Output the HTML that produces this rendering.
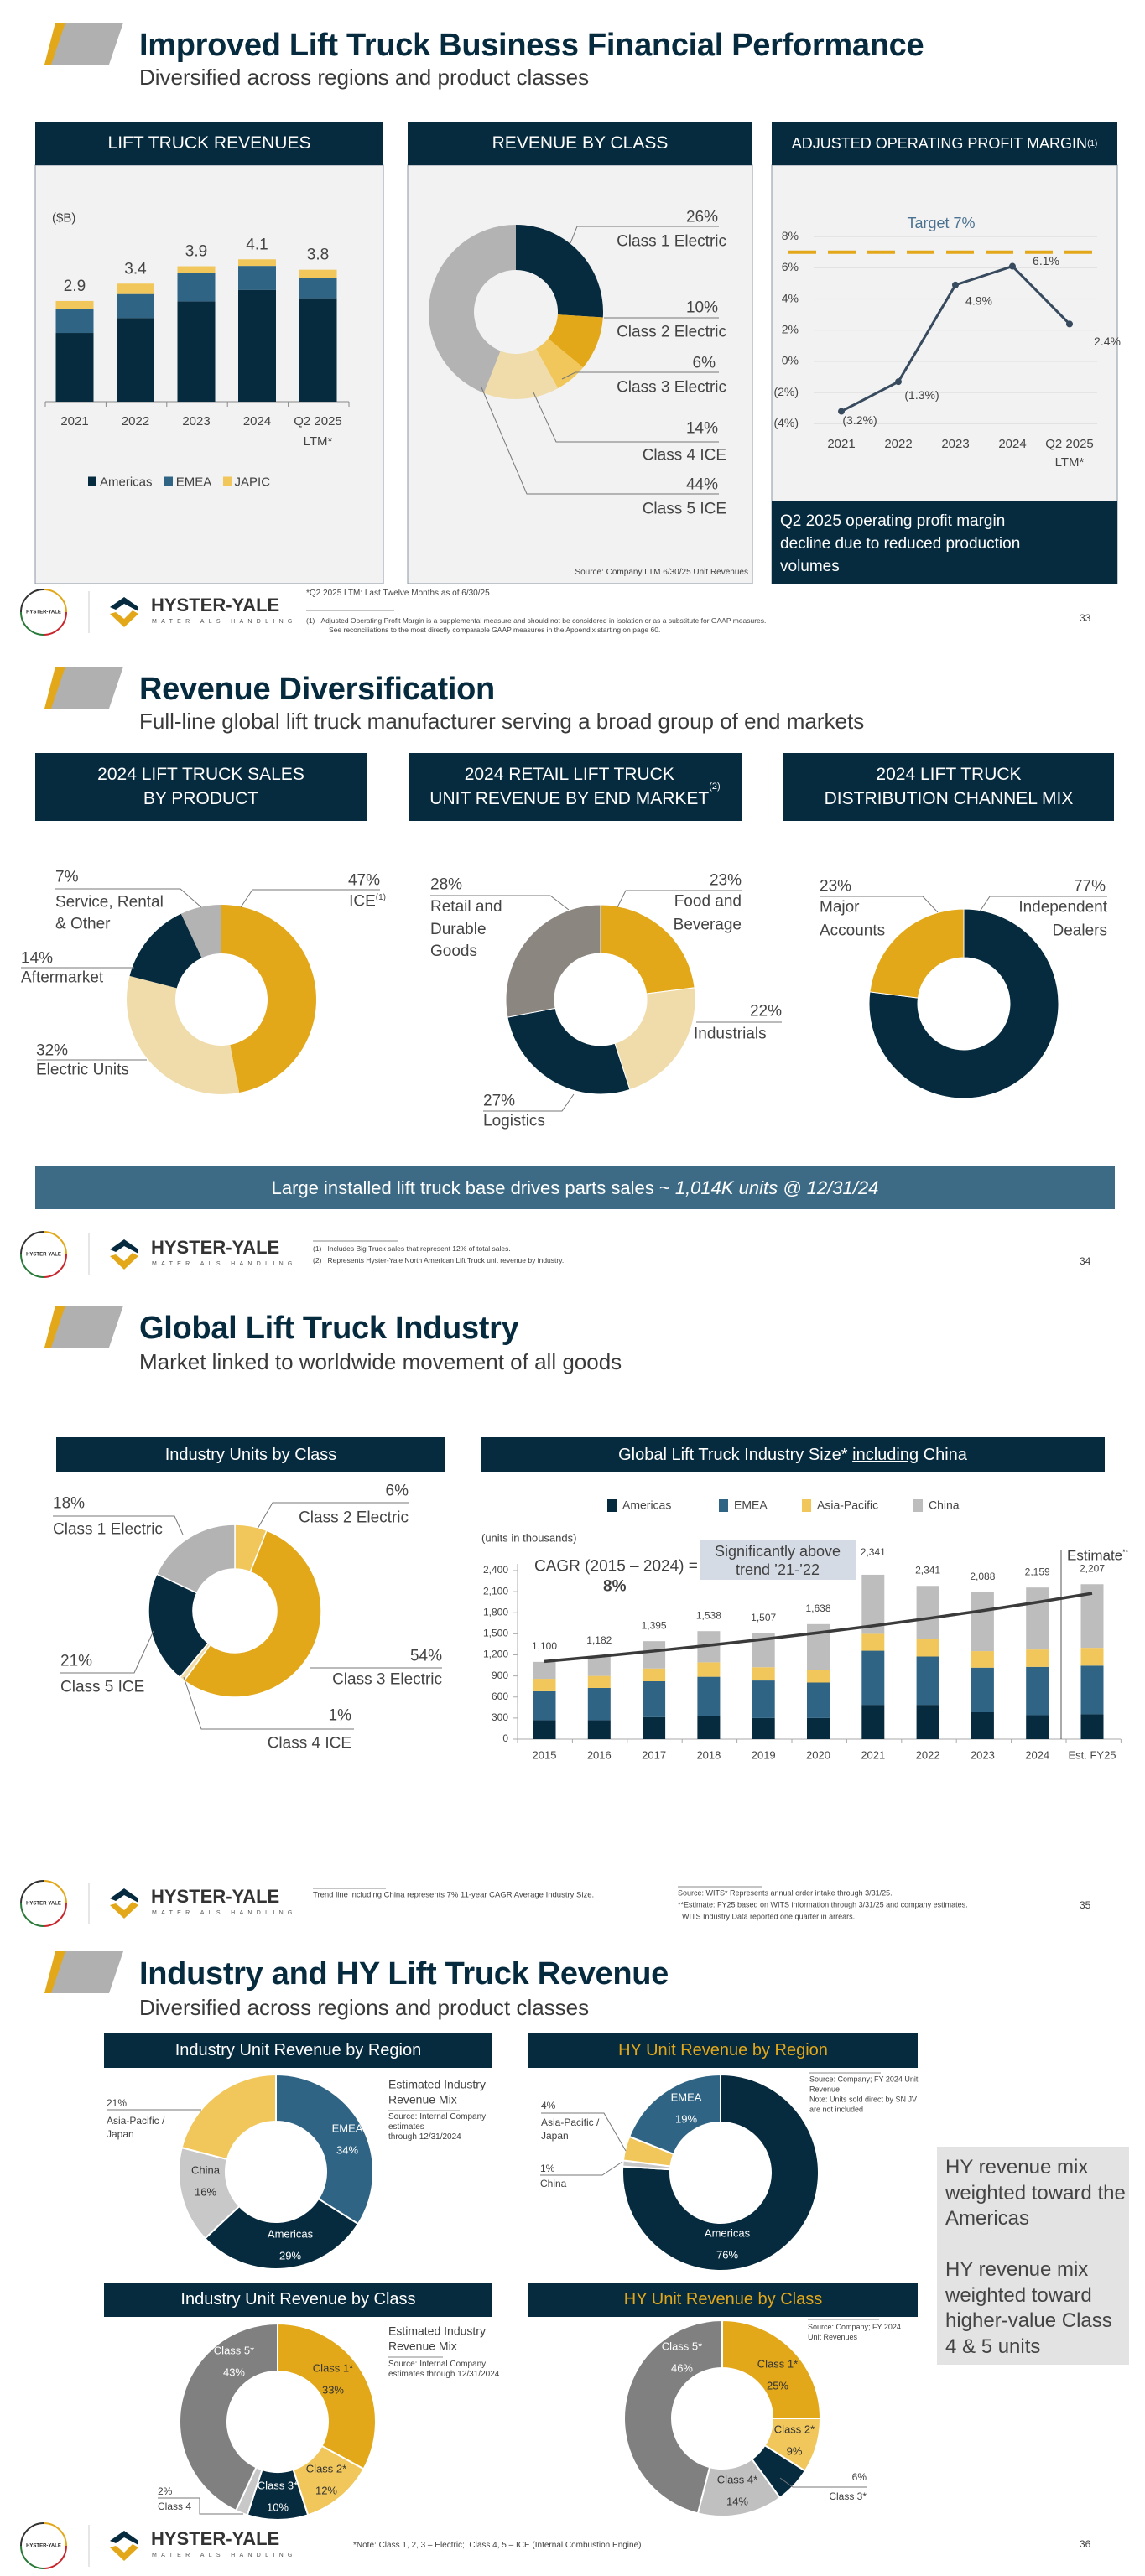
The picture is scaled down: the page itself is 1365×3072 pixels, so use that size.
<!DOCTYPE html>
<html><head><meta charset="utf-8">
<style>
*{margin:0;padding:0;box-sizing:border-box}
body{width:1365px;height:3072px;position:relative;background:#fff;font-family:"Liberation Sans",sans-serif;color:#404040;overflow:hidden}
#g{position:absolute;left:0;top:0}
.t{position:absolute;white-space:nowrap;line-height:1;transform:translateY(-50%)}
.c{position:absolute;white-space:nowrap;line-height:1;transform:translate(-50%,-50%);text-align:center}
.r{position:absolute;white-space:nowrap;line-height:1;transform:translateY(-50%);text-align:right}
.title{font-weight:bold;font-size:38px;color:#062a3e;letter-spacing:-0.3px}
.sub{font-size:26px;color:#3a3a3a}
.hdr{position:absolute;background:#062a3e;color:#fff;display:flex;align-items:center;justify-content:center;text-align:center;font-size:21px;line-height:1.35}
.lb{font-size:19px;color:#444}
.sm{font-size:10px;color:#444}
.in{font-size:13px;color:#fff}
</style></head><body>
<svg id="g" width="1365" height="3072"></svg>

<!-- SLIDE 1 -->
<div class="t title" style="left:166px;top:54px">Improved Lift Truck Business Financial Performance</div>
<div class="t sub" style="left:166px;top:92px">Diversified across regions and product classes</div>
<div class="hdr" style="left:42px;top:146px;width:415px;height:51px">LIFT TRUCK REVENUES</div>
<div class="hdr" style="left:486px;top:146px;width:411px;height:51px">REVENUE BY CLASS</div>
<div class="hdr" style="left:920px;top:146px;width:412px;height:51px;font-size:18px">ADJUSTED OPERATING PROFIT MARGIN<sup style="font-size:10px">(1)</sup></div>
<div class="t" style="left:62px;top:260px;font-size:15px">($B)</div>
<div class="t" style="left:105px;top:575px;font-size:15px"><span style="display:inline-block;width:10px;height:11px;background:#062a3e;margin-right:4px"></span>Americas <span style="display:inline-block;width:10px;height:11px;background:#2f6484;margin:0 4px 0 10px"></span>EMEA <span style="display:inline-block;width:10px;height:11px;background:#f1c75b;margin:0 4px 0 10px"></span>JAPIC</div>
<div class="r lb" style="right:509px;top:259px">26%</div>
<div class="r lb" style="right:499px;top:288px">Class 1 Electric</div>
<div class="r lb" style="right:509px;top:367px">10%</div>
<div class="r lb" style="right:499px;top:396px">Class 2 Electric</div>
<div class="r lb" style="right:512px;top:433px">6%</div>
<div class="r lb" style="right:499px;top:462px">Class 3 Electric</div>
<div class="r lb" style="right:509px;top:511px">14%</div>
<div class="r lb" style="right:499px;top:543px">Class 4 ICE</div>
<div class="r lb" style="right:509px;top:578px">44%</div>
<div class="r lb" style="right:499px;top:607px">Class 5 ICE</div>
<div class="r" style="right:473px;top:683px;font-size:10px">Source: Company LTM 6/30/25 Unit Revenues</div>
<div class="c" style="left:1122px;top:266px;font-size:18px;color:#4a7290">Target 7%</div>
<div style="position:absolute;left:920px;top:598px;width:412px;height:99px;background:#062a3e;color:#fff;font-size:19px;line-height:27px;padding:10px 10px">Q2 2025 operating profit margin<br>decline due to reduced production<br>volumes</div>
<div class="t sm" style="left:365px;top:708px">*Q2 2025 LTM: Last Twelve Months as of 6/30/25</div>
<div class="t" style="left:365px;top:740px;font-size:8.5px;color:#444">(1)&nbsp;&nbsp;&nbsp;Adjusted Operating Profit Margin is a supplemental measure and should not be considered in isolation or as a substitute for GAAP measures.</div>
<div class="t" style="left:392px;top:751px;font-size:8.5px;color:#444">See reconciliations to the most directly comparable GAAP measures in the Appendix starting on page 60.</div>
<div class="t" style="left:1287px;top:737px;font-size:12px">33</div>

<!-- SLIDE 2 -->
<div class="t title" style="left:166px;top:822px">Revenue Diversification</div>
<div class="t sub" style="left:166px;top:860px">Full-line global lift truck manufacturer serving a broad group of end markets</div>
<div class="hdr" style="left:42px;top:898px;width:395px;height:81px">2024 LIFT TRUCK SALES<br>BY PRODUCT</div>
<div class="hdr" style="left:487px;top:898px;width:397px;height:81px">2024 RETAIL LIFT TRUCK<br>UNIT REVENUE BY END MARKET<sup style="font-size:11px">(2)</sup></div>
<div class="hdr" style="left:934px;top:898px;width:394px;height:81px">2024 LIFT TRUCK<br>DISTRIBUTION CHANNEL MIX</div>
<div class="t lb" style="left:66px;top:1046px">7%</div>
<div class="t lb" style="left:66px;top:1076px">Service, Rental</div>
<div class="t lb" style="left:66px;top:1102px">&amp; Other</div>
<div class="r lb" style="right:912px;top:1050px">47%</div>
<div class="r lb" style="right:905px;top:1075px">ICE<sup style="font-size:10px">(1)</sup></div>
<div class="t lb" style="left:25px;top:1143px">14%</div>
<div class="t lb" style="left:25px;top:1166px">Aftermarket</div>
<div class="t lb" style="left:43px;top:1253px">32%</div>
<div class="t lb" style="left:43px;top:1276px">Electric Units</div>
<div class="t lb" style="left:513px;top:1055px">28%</div>
<div class="t lb" style="left:513px;top:1083px;line-height:1.4;transform:translateY(-14px)">Retail and<br>Durable<br>Goods</div>
<div class="r lb" style="right:481px;top:1050px">23%</div>
<div class="r lb" style="right:481px;top:1075px">Food and</div>
<div class="r lb" style="right:481px;top:1103px">Beverage</div>
<div class="r lb" style="right:433px;top:1206px">22%</div>
<div class="t lb" style="left:827px;top:1233px">Industrials</div>
<div class="t lb" style="left:576px;top:1313px">27%</div>
<div class="t lb" style="left:576px;top:1337px">Logistics</div>
<div class="t lb" style="left:977px;top:1057px">23%</div>
<div class="t lb" style="left:977px;top:1082px">Major</div>
<div class="t lb" style="left:977px;top:1110px">Accounts</div>
<div class="r lb" style="right:47px;top:1057px">77%</div>
<div class="r lb" style="right:45px;top:1082px">Independent</div>
<div class="r lb" style="right:45px;top:1110px">Dealers</div>
<div style="position:absolute;left:42px;top:1391px;width:1287px;height:51px;background:#3d6b86;color:#fff;font-size:22px;display:flex;align-items:center;justify-content:center">Large installed lift truck base drives parts sales ~&nbsp;<i>1,014K units @ 12/31/24</i></div>
<div class="t" style="left:373px;top:1489px;font-size:8.5px">(1)&nbsp;&nbsp;&nbsp;Includes Big Truck sales that represent 12% of total sales.</div>
<div class="t" style="left:373px;top:1503px;font-size:8.5px">(2)&nbsp;&nbsp;&nbsp;Represents Hyster-Yale North American Lift Truck unit revenue by industry.</div>
<div class="t" style="left:1287px;top:1504px;font-size:12px">34</div>

<!-- SLIDE 3 -->
<div class="t title" style="left:166px;top:1584px">Global Lift Truck Industry</div>
<div class="t sub" style="left:166px;top:1624px">Market linked to worldwide movement of all goods</div>
<div class="hdr" style="left:67px;top:1714px;width:464px;height:42px;font-size:20px">Industry Units by Class</div>
<div class="hdr" style="left:573px;top:1714px;width:744px;height:42px;font-size:20px">Global Lift Truck Industry Size*&nbsp;<u>including</u>&nbsp;China</div>
<div class="t lb" style="left:63px;top:1793px">18%</div>
<div class="t lb" style="left:63px;top:1824px">Class 1 Electric</div>
<div class="r lb" style="right:878px;top:1778px">6%</div>
<div class="r lb" style="right:878px;top:1810px">Class 2 Electric</div>
<div class="t lb" style="left:72px;top:1981px">21%</div>
<div class="t lb" style="left:72px;top:2012px">Class 5 ICE</div>
<div class="r lb" style="right:838px;top:1975px">54%</div>
<div class="r lb" style="right:838px;top:2003px">Class 3 Electric</div>
<div class="r lb" style="right:946px;top:2046px">1%</div>
<div class="r lb" style="right:946px;top:2079px">Class 4 ICE</div>
<div class="t" style="left:574px;top:1834px;font-size:13px">(units in thousands)</div>
<div class="t" style="left:637px;top:1868px;font-size:19px">CAGR (2015 – 2024) =</div>
<div class="t" style="left:719px;top:1892px;font-size:19px;font-weight:bold">8%</div>
<div class="c" style="left:927px;top:1860px;width:186px;height:48px;background:#d5dbe5;font-size:18px;line-height:22px;padding-top:3px;transform:translate(-50%,-50%)">Significantly above<br>trend ’21-’22</div>
<div class="t" style="left:1272px;top:1855px;font-size:17px">Estimate<sup style="font-size:9px">**</sup></div>
<div class="t" style="left:373px;top:2260px;font-size:9.5px">Trend line including China represents 7% 11-year CAGR Average Industry Size.</div>
<div class="t" style="left:808px;top:2258px;font-size:9px">Source: WITS* Represents annual order intake through 3/31/25.</div>
<div class="t" style="left:808px;top:2272px;font-size:9px">**Estimate: FY25 based on WITS information through 3/31/25 and company estimates.</div>
<div class="t" style="left:813px;top:2286px;font-size:9px">WITS Industry Data reported one quarter in arrears.</div>
<div class="t" style="left:1287px;top:2272px;font-size:12px">35</div>

<!-- SLIDE 4 -->
<div class="t title" style="left:166px;top:2354px">Industry and HY Lift Truck Revenue</div>
<div class="t sub" style="left:166px;top:2394px">Diversified across regions and product classes</div>
<div class="hdr" style="left:124px;top:2425px;width:463px;height:41px;font-size:20px">Industry Unit Revenue by Region</div>
<div class="hdr" style="left:630px;top:2425px;width:464px;height:41px;font-size:20px;color:#e3a81a">HY Unit Revenue by Region</div>
<div class="hdr" style="left:124px;top:2722px;width:463px;height:41px;font-size:20px">Industry Unit Revenue by Class</div>
<div class="hdr" style="left:630px;top:2722px;width:464px;height:41px;font-size:20px;color:#e3a81a">HY Unit Revenue by Class</div>
<div class="c in" style="left:414px;top:2551px">EMEA<br><br>34%</div>
<div class="c in" style="left:346px;top:2677px">Americas<br><br>29%</div>
<div class="c in" style="left:245px;top:2601px;color:#333">China<br><br>16%</div>
<div class="t" style="left:127px;top:2508px;font-size:12px">21%</div>
<div class="t" style="left:127px;top:2537px;font-size:12px;line-height:1.35">Asia-Pacific /<br>Japan</div>
<div class="t" style="left:463px;top:2495px;font-size:14px;line-height:1.25">Estimated Industry<br>Revenue Mix</div>
<div class="t" style="left:463px;top:2537px;font-size:10px;line-height:1.2">Source: Internal Company<br>estimates<br>through 12/31/2024</div>
<div class="c in" style="left:818px;top:2514px">EMEA<br><br>19%</div>
<div class="c in" style="left:867px;top:2676px">Americas<br><br>76%</div>
<div class="t" style="left:645px;top:2511px;font-size:12px">4%</div>
<div class="t" style="left:645px;top:2539px;font-size:12px;line-height:1.35">Asia-Pacific /<br>Japan</div>
<div class="t" style="left:644px;top:2586px;font-size:12px">1%</div>
<div class="t" style="left:644px;top:2604px;font-size:12px">China</div>
<div class="t" style="left:965px;top:2498px;font-size:9px;line-height:1.35">Source: Company; FY 2024 Unit<br>Revenue<br>Note: Units sold direct by SN JV<br>are not included</div>
<div class="c in" style="left:279px;top:2816px">Class 5*<br><br>43%</div>
<div class="c in" style="left:397px;top:2837px;color:#333">Class 1*<br><br>33%</div>
<div class="c in" style="left:389px;top:2957px;color:#333">Class 2*<br><br>12%</div>
<div class="c in" style="left:331px;top:2977px">Class 3*<br><br>10%</div>
<div class="t" style="left:188px;top:2971px;font-size:12px">2%</div>
<div class="t" style="left:188px;top:2989px;font-size:12px">Class 4</div>
<div class="t" style="left:463px;top:2789px;font-size:14px;line-height:1.25">Estimated Industry<br>Revenue Mix</div>
<div class="t" style="left:463px;top:2826px;font-size:10px;line-height:1.2">Source: Internal Company<br>estimates through 12/31/2024</div>
<div class="c in" style="left:813px;top:2811px">Class 5*<br><br>46%</div>
<div class="c in" style="left:927px;top:2832px;color:#333">Class 1*<br><br>25%</div>
<div class="c in" style="left:947px;top:2910px;color:#333">Class 2*<br><br>9%</div>
<div class="c in" style="left:879px;top:2970px;color:#333">Class 4*<br><br>14%</div>
<div class="r" style="right:332px;top:2954px;font-size:12px">6%</div>
<div class="r" style="right:332px;top:2977px;font-size:12px">Class 3*</div>
<div class="t" style="left:963px;top:2781px;font-size:9px;line-height:1.35">Source: Company; FY 2024<br>Unit Revenues</div>
<div style="position:absolute;left:1117px;top:2560px;width:229px;height:260px;background:#e3e3e3;font-size:24px;line-height:30.5px;color:#444;padding:10px 4px 0 10px">HY revenue mix weighted toward the Americas<br><br>HY revenue mix weighted toward higher-value Class 4 &amp; 5 units</div>
<div class="t" style="left:421px;top:3036px;font-size:10px">*Note: Class 1, 2, 3 – Electric;&nbsp; Class 4, 5 – ICE (Internal Combustion Engine)</div>
<div class="t" style="left:1287px;top:3034px;font-size:12px">36</div>

<script>
// ---- Lift truck revenues ($B) ----
const revYears = ["2021","2022","2023","2024","Q2 2025"];
const revAmericas = [1.98,2.41,2.89,3.22,2.98];
const revEmea = [0.68,0.69,0.83,0.69,0.58];
const revJapic = [0.24,0.30,0.18,0.19,0.24];
const revTotals = ["2.9","3.4","3.9","4.1","3.8"];
// ---- Adjusted operating profit margin (%) ----
const marginYears = ["2021","2022","2023","2024","Q2 2025"];
const marginValues = [-3.2,-1.3,4.9,6.1,2.4];
const marginLabels = ["(3.2%)","(1.3%)","4.9%","6.1%","2.4%"];
const marginTicks = [8,6,4,2,0,-2,-4];
const marginTarget = [7];
// ---- Donuts ----
const revClassValues = [26,10,6,14,44];
const productValues = [47,32,14,7];
const endMarketValues = [23,22,27,28];
const channelValues = [77,23];
const indClassValues = [6,54,1,21,18];
const indRegionValues = [34,29,16,21];
const hyRegionValues = [76,1,4,19];
const indRevClassValues = [33,12,10,2,43];
const hyClassValues = [25,9,6,14,46];
// ---- Global industry size (thousands) ----
const sizeYears = ["2015","2016","2017","2018","2019","2020","2021","2022","2023","2024","Est. FY25"];
const sizeAmericas = [270,270,312,324,300,300,488,488,382,341,353];
const sizeEmea = [412,459,512,564,535,506,771,688,636,688,694];
const sizeApac = [177,171,182,206,189,176,241,253,235,247,253];
const sizeChina = [241,282,389,444,483,656,841,753,841,883,906];
const sizeLabels = ["1,100","1,182","1,395","1,538","1,507","1,638","2,341","2,341","2,088","2,159","2,207"];
const sizeTicks = [0,300,600,900,1200,1500,1800,2100,2400];
const trendStartEnd = [1106,2076];

const NS="http://www.w3.org/2000/svg";
const svg=document.getElementById('g');
function mk(tag,attrs,parent){const e=document.createElementNS(NS,tag);for(const k in attrs)e.setAttribute(k,attrs[k]);(parent||svg).appendChild(e);return e;}
function txt(x,y,s,size,anchor,fill,parent){const e=mk('text',{x:x,y:y,'font-size':size,'text-anchor':anchor||'middle',fill:fill||'#444','font-family':'Liberation Sans, sans-serif','dominant-baseline':'middle'},parent);e.textContent=s;return e;}
const NAVY='#062a3e',STEEL='#2f6484',GOLD='#e3a81a',LGOLD='#f1c75b',PALE='#efdcaa',GRAY='#b3b3b3',DGRAY='#808080';

function deco(y){
  const g=mk('g',{});
  
  
  mk('polygon',{points:`${53},${y+50} ${66},${y} ${86},${y} ${73},${y+50}`,fill:GOLD},g);
  mk('polygon',{points:`${61},${y+50} ${78},${y} ${147},${y} ${130},${y+50}`,fill:'#b0b0b0'},g);
}
deco(27);deco(795);deco(1557);deco(2327);
function footer(cy){
  const g=mk('g',{});
  
  
  const cols=['#e3a81a','#c8262c','#2a7a3a','#333'];
  for(let i=0;i<4;i++){const a0=i*Math.PI/2-Math.PI/2,a1=a0+Math.PI/2;
    mk('path',{d:`M${52+27*Math.cos(a0)},${cy+27*Math.sin(a0)} A27,27 0 0 1 ${52+27*Math.cos(a1)},${cy+27*Math.sin(a1)}`,fill:'none',stroke:cols[i],'stroke-width':2},g);}
  txt(52,cy,'HYSTER-YALE',6,'middle','#222',g).setAttribute('font-weight','bold');
  mk('line',{x1:106,y1:cy-25,x2:106,y2:cy+25,stroke:'#ccc'},g);
  mk('path',{d:`M131,${cy-6} L148,${cy-18} L165,${cy-6} L165,${cy-1} L148,${cy-10} L138,${cy-3} Z`,fill:NAVY},g);
  mk('path',{d:`M131,${cy+2} L148,${cy+18} L165,${cy+2} L158,${cy-2} L148,${cy+8} L138,${cy} Z`,fill:GOLD},g);
  const t=txt(180,cy-7,'HYSTER-YALE',22,'start','#333',g);t.setAttribute('font-weight','bold');
  const m=txt(181,cy+11,'MATERIALS HANDLING',7,'start','#555',g);m.setAttribute('letter-spacing','5.3');
}
footer(730);footer(1496);footer(2270);footer(3036);

[[42,457],[486,897],[920,1332]].forEach(p=>{const r=mk('rect',{x:p[0],y:197,width:p[1]-p[0],height:499,fill:'#f2f2f2',stroke:'#8a96a3','stroke-width':1});});

(function(){
  const base=479,ppu=41.4,x0=89,step=72.5,w=45;
  const ys=v=>base-v*ppu;
  mk('line',{x1:54,y1:base,x2:416,y2:base,stroke:'#888'});
  for(let i=0;i<=5;i++)mk('line',{x1:54+i*72.4,y1:base,x2:54+i*72.4,y2:base+6,stroke:'#888'});
  revYears.forEach((yr,i)=>{
    const cx=x0+i*step;let acc=0;
    [[revAmericas[i],NAVY,'americas'],[revEmea[i],STEEL,'emea'],[revJapic[i],LGOLD,'japic']].forEach(s=>{
      const r=mk('rect',{x:cx-w/2,y:ys(acc+s[0]),width:w,height:s[0]*ppu,fill:s[1]});
      
      
      acc+=s[0];});
    txt(cx,ys(acc)-17,revTotals[i],19,'middle','#444');
    txt(cx,base+24,yr,15,'middle','#444');
    if(i==4)txt(cx,base+48,'LTM*',15,'middle','#444');
  });
})();

(function(){
  const y0=431,pp=18.6,x0=1003,step=68;
  const ys=v=>y0-v*pp;
  marginTicks.forEach(t=>{mk('line',{x1:970,y1:ys(t),x2:1308,y2:ys(t),stroke:'#e0e0e0'});txt(952,ys(t),t<0?'('+(-t)+'%)':t+'%',14,'end','#444');});
  const tl=mk('line',{x1:940,y1:ys(marginTarget[0]),x2:1302,y2:ys(marginTarget[0]),stroke:GOLD,'stroke-width':4,'stroke-dasharray':'33 14'});
  
  const pts=marginValues.map((v,i)=>[x0+i*step,ys(v)]);
  const pl=mk('polyline',{points:pts.map(p=>p.join(',')).join(' '),fill:'none',stroke:'#374a5e','stroke-width':3});
  
  const off=[[22,12],[28,17],[28,20],[40,-5],[45,22]];
  pts.forEach((p,i)=>{const c=mk('circle',{cx:p[0],cy:p[1],r:4,fill:'#374a5e'});
    txt(p[0]+off[i][0],p[1]+off[i][1],marginLabels[i],14,'middle','#444');
    txt(p[0],530,marginYears[i],15,'middle','#444');});
  txt(1275,552,'LTM*',15,'middle','#444');
})();

function donut(cx,cy,ro,ri,vals,cols,name,sw){
  const tot=vals.reduce((a,b)=>a+b,0);let a=-Math.PI/2;
  vals.forEach((v,i)=>{const b=a+v/tot*2*Math.PI,lg=(b-a)>Math.PI?1:0;
    const p=`M${cx+ro*Math.cos(a)},${cy+ro*Math.sin(a)} A${ro},${ro} 0 ${lg} 1 ${cx+ro*Math.cos(b)},${cy+ro*Math.sin(b)} L${cx+ri*Math.cos(b)},${cy+ri*Math.sin(b)} A${ri},${ri} 0 ${lg} 0 ${cx+ri*Math.cos(a)},${cy+ri*Math.sin(a)} Z`;
    const e=mk('path',{d:p,fill:cols[i],stroke:'#fff','stroke-width':sw||0});
    
    
    a=b;});
}
function L(pts){mk('polyline',{points:pts.map(p=>p.join(',')).join(' '),fill:'none',stroke:'#777','stroke-width':1});}
donut(615,372,104,50,revClassValues,[NAVY,GOLD,LGOLD,PALE,GRAY],'revenue-class',0);
L([[857,270],[688,270],[680,290]]);L([[857,379],[720,379]]);L([[857,444],[686,444],[670,452]]);L([[857,527],[663,527],[636,468]]);L([[857,589],[628,589],[574,462]]);

donut(264,1192,113,55,productValues,[GOLD,PALE,NAVY,GRAY],'product',0);
L([[66,1060],[215,1060],[240,1082]]);L([[453,1061],[301,1061],[287,1082]]);L([[25,1154],[160,1154]]);L([[44,1264],[175,1264]]);
donut(716,1192,113,55,endMarketValues,[GOLD,PALE,NAVY,'#8b8680'],'end-market',1);
L([[513,1068],[656,1068],[678,1085]]);L([[884,1062],[746,1062],[736,1082]]);L([[932,1219],[830,1219]]);L([[576,1325],[670,1325],[684,1305]]);
donut(1149,1197,113,55,channelValues,[NAVY,GOLD],'channel',1);
L([[977,1069],[1100,1069],[1118,1088]]);L([[1320,1069],[1180,1069],[1168,1087]]);

donut(280,1921,103,50,indClassValues,[LGOLD,GOLD,PALE,NAVY,GRAY],'industry-class',1.5);
L([[63,1808],[208,1808],[218,1830]]);L([[487,1792],[325,1792],[307,1823]]);L([[72,1995],[160,1995],[183,1945]]);L([[527,1989],[370,1989]]);L([[422,2062],[240,2062],[219,2000]]);

(function(){
  const base=2074,top=1873,max=2400,x0=649,step=65.3,w=27;
  const ys=v=>base-(v/max)*(base-top);
  mk('line',{x1:617,y1:base,x2:1336,y2:base,stroke:'#aaa'});
  mk('line',{x1:617,y1:top-8,x2:617,y2:base,stroke:'#aaa'});
  sizeTicks.forEach(t=>{txt(606,ys(t),t.toLocaleString('en-US'),12,'end','#444');mk('line',{x1:612,y1:ys(t),x2:617,y2:ys(t),stroke:'#aaa'});});
  for(let i=0;i<=11;i++)mk('line',{x1:617+i*65.4,y1:base,x2:617+i*65.4,y2:base+5,stroke:'#aaa'});
  mk('line',{x1:1265,y1:1848,x2:1265,y2:base,stroke:'#555'});
  sizeYears.forEach((yr,i)=>{const cx=x0+i*step;let acc=0;
    [[sizeAmericas[i],NAVY,'americas'],[sizeEmea[i],STEEL,'emea'],[sizeApac[i],LGOLD,'apac'],[sizeChina[i],'#bdbdbd','china']].forEach(s=>{
      const r=mk('rect',{x:cx-w/2,y:ys(acc+s[0]),width:w,height:ys(acc)-ys(acc+s[0]),fill:s[1]});
      
      
      acc+=s[0];});
    txt(cx,ys(acc)-18-(i==6?8:0),sizeLabels[i],12,'middle','#444');
    txt(cx,base+20,yr,13,'middle','#444');});
  const pts=[];for(let i=0;i<=10;i++){const v=trendStartEnd[0]*Math.pow(trendStartEnd[1]/trendStartEnd[0],i/10);pts.push([x0+i*step,ys(v)]);}
  const tl=mk('polyline',{points:pts.map(p=>p.join(',')).join(' '),fill:'none',stroke:'#3a3a3a','stroke-width':3.5});
  
  const lg=[['Americas',NAVY,724],['EMEA',STEEL,857],['Asia-Pacific',LGOLD,956],['China','#bdbdbd',1089]];
  lg.forEach(l=>{const r=mk('rect',{x:l[2],y:1788,width:11,height:15,fill:l[1]});txt(l[2]+18,1796,l[0],14,'start','#444');});
})();

donut(329,2590,116,60,indRegionValues,[STEEL,NAVY,'#c8c8c8',LGOLD],'industry-region',2);
L([[127,2516],[240,2516]]);
donut(859,2591,117,60,hyRegionValues,[NAVY,'#c8c8c8',LGOLD,STEEL],'hy-region',2);
L([[645,2520],[720,2520],[746,2565]]);L([[644,2594],[718,2594],[742,2578]]);
donut(331,2888,117,60,indRevClassValues,[GOLD,LGOLD,NAVY,'#c8c8c8',DGRAY],'industry-rev-class',2);
L([[188,2979],[238,2979],[238,2998],[290,2998]]);
donut(861,2884,117,60,hyClassValues,[GOLD,LGOLD,NAVY,'#c0c0c0',DGRAY],'hy-class',2);
L([[1033,2966],[945,2966],[930,2955]]);

[[365,470,728],[373,475,1480],[373,460,2252],[808,908,2250],[463,548,2517],[965,1050,2472],[463,528,2811],[963,1048,2766]].forEach(l=>mk('line',{x1:l[0],y1:l[2],x2:l[1],y2:l[2],stroke:'#888'}));
</script>
</body></html>
